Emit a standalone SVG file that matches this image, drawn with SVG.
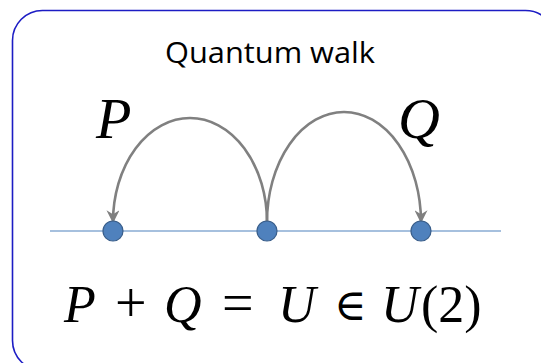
<svg xmlns="http://www.w3.org/2000/svg" width="541" height="363" viewBox="0 0 541 363">
<style>
.frame{fill:#ffffff;stroke:#1c1cc4;stroke-width:1.6}
.axis{stroke:#4f81bd;stroke-width:1.2}
.dot{fill:#4f81bd;stroke:#385d8a;stroke-width:1.2}
.arc{fill:none;stroke:#808080;stroke-width:2.6}
.title{font-family:"Open Sans","Liberation Sans",sans-serif;font-size:29px;fill:#000}
.mi{font-family:"Liberation Serif","DejaVu Serif",serif;font-style:italic;fill:#000}
.mr{font-family:"Liberation Serif","DejaVu Serif",serif;fill:#000}
</style>
<defs>
<marker id="ah" viewBox="0 0 10 10" refX="9" refY="5" markerWidth="5" markerHeight="5" orient="auto" markerUnits="strokeWidth">
<path d="M0,0 L10,5 L0,10 L3,5 Z" fill="#808080"/>
</marker>
</defs>
<rect class="frame" x="12.5" y="10.5" width="543" height="360" rx="30" ry="30"/>
<text class="title" x="270" y="63" text-anchor="middle" textLength="210" lengthAdjust="spacingAndGlyphs">Quantum walk</text>
<line class="axis" x1="50" y1="231" x2="501" y2="231"/>
<g id="connectors">
<path class="arc" d="M267,222 A77,104 0 0 0 113,222" marker-end="url(#ah)"/>
<path class="arc" d="M267,222 A77,110 0 0 1 421,222" marker-end="url(#ah)"/>
</g>
<g id="node-left"><circle class="dot" cx="113" cy="231" r="10"/></g>
<g id="node-mid"><circle class="dot" cx="267" cy="231" r="10"/></g>
<g id="node-right"><circle class="dot" cx="421" cy="231" r="10"/></g>
<text class="mi" x="96" y="138" font-size="58">P</text>
<text class="mi" x="398" y="138" font-size="58">Q</text>
<g id="equation" font-size="52">
<text class="mi" x="64" y="322">P</text>
<text class="mr" x="115" y="322" font-size="56">+</text>
<text class="mi" x="164" y="322">Q</text>
<text class="mr" x="222" y="322" font-size="56">=</text>
<text class="mi" x="278" y="322">U</text>
<text class="mr" x="334" y="320" font-size="44">∈</text>
<text class="mi" x="381" y="322">U</text>
<text class="mr" x="421" y="322">(2)</text>
</g>
</svg>
